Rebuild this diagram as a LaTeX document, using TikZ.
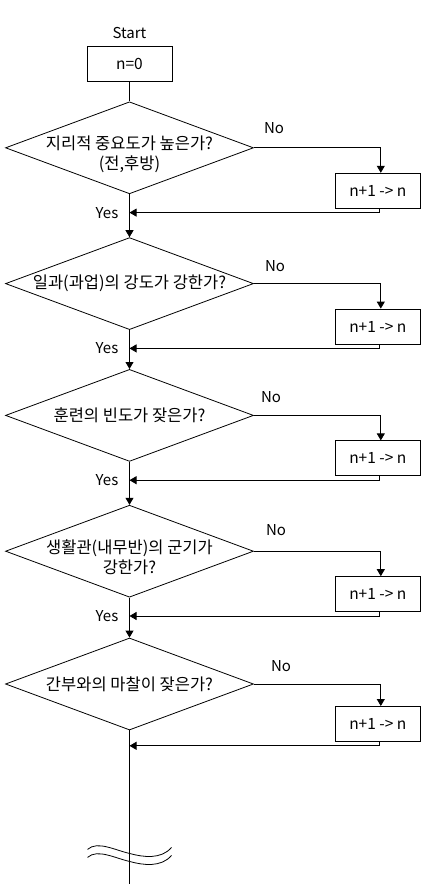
\documentclass[tikz,border=0pt]{standalone}
\usepackage{fontspec}
\setmainfont{Noto Sans CJK KR}
\usetikzlibrary{shapes.geometric, arrows.meta, positioning}
\tikzset{
    procbox/.style={
        rectangle, draw=black, line width=0.8pt,
        minimum width=85pt, minimum height=35pt,
        inner sep=0pt, font=\fontsize{15.5}{18}\selectfont
    },
    decision/.style={
        diamond, draw=black, line width=0.8pt,
        minimum width=248pt, minimum height=92pt, inner sep=0pt
    },
    question/.style={align=center, font=\fontsize{16.5}{20}\selectfont},
    lbl/.style={inner sep=0pt, font=\fontsize{15}{18}\selectfont},
    line/.style={draw=black, line width=0.8pt},
    arrow/.style={line, -{Triangle[length=7pt, width=8pt]}}
}

\begin{document}
\begin{tikzpicture}[x=1pt, y=1pt]
\useasboundingbox (0,0) rectangle (425,-884);

% ── Start ────────────────────────────────────────────────────────────────────
\node[procbox] (init) at (129.5,-63.5) {n=0};
\node[lbl, above=7pt of init] (start) {Start};

% ── Questions ────────────────────────────────────────────────────────────────
\node[decision, below=20pt of init,
      label={[question, yshift=-6pt]center:지리적 중요도가 높은가?\\(전,후방)}] (d1) {};
\node[decision, below=43pt of d1,
      label={[question]center:일과(과업)의 강도가 강한가?}] (d2) {};
\node[decision, below=39pt of d2,
      label={[question]center:훈련의 빈도가 잦은가?}] (d3) {};
\node[decision, below=43pt of d3,
      label={[question, yshift=-6pt]center:생활관(내무반)의 군기가\\강한가?}] (d4) {};
\node[decision, below=40pt of d4,
      label={[question]center:간부와의 마찰이 잦은가?}] (d5) {};

% ── Counters ─────────────────────────────────────────────────────────────────
\node[procbox, below right=25pt and 81pt of d1.east] (b1) {n+1 -{}> n};
\node[procbox, below right=25pt and 81pt of d2.east] (b2) {n+1 -{}> n};
\node[procbox, below right=25pt and 81pt of d3.east] (b3) {n+1 -{}> n};
\node[procbox, below right=25pt and 81pt of d4.east] (b4) {n+1 -{}> n};
\node[procbox, below right=22pt and 81pt of d5.east] (b5) {n+1 -{}> n};

% ── No labels ────────────────────────────────────────────────────────────────
\node[lbl, above right=14pt and 10pt of d1.east] (no1) {No};
\node[lbl, above right=12pt and 11pt of d2.east] (no2) {No};
\node[lbl, above right=13pt and 7pt of d3.east]  (no3) {No};
\node[lbl, above right=15pt and 12pt of d4.east] (no4) {No};
\node[lbl, above right=12pt and 17pt of d5.east] (no5) {No};

% ── Return points ────────────────────────────────────────────────────────────
\coordinate[below=4pt of b1.south] (r1);
\coordinate[below=4pt of b2.south] (r2);
\coordinate[below=4pt of b3.south] (r3);
\coordinate[below=4pt of b4.south] (r4);
\coordinate[below=4pt of b5.south] (r5);
\coordinate (j1) at (r1 -| d1.south);
\coordinate (j2) at (r2 -| d2.south);
\coordinate (j3) at (r3 -| d3.south);
\coordinate (j4) at (r4 -| d4.south);
\coordinate (j5) at (r5 -| d5.south);

% ── Yes labels ───────────────────────────────────────────────────────────────
\node[lbl, left=11pt of j1] (yes1) {Yes};
\node[lbl, left=11pt of j2] (yes2) {Yes};
\node[lbl, left=11pt of j3] (yes3) {Yes};
\node[lbl, left=11pt of j4] (yes4) {Yes};

% ── Arrows: main line ────────────────────────────────────────────────────────
\draw[line]  (init) -- (d1);
\draw[arrow] (d1.south) -- (d2.north);
\draw[arrow] (d2.south) -- (d3.north);
\draw[arrow] (d3.south) -- (d4.north);
\draw[arrow] (d4.south) -- (d5.north);

% ── Arrows: No branch ────────────────────────────────────────────────────────
\draw[arrow] (d1.east) -| ([xshift=3pt]b1.north);
\draw[arrow] (d2.east) -| ([xshift=3pt]b2.north);
\draw[arrow] (d3.east) -| ([xshift=3pt]b3.north);
\draw[arrow] (d4.east) -| ([xshift=3pt]b4.north);
\draw[arrow] (d5.east) -| ([xshift=3pt]b5.north);

% ── Arrows: back to main line ────────────────────────────────────────────────
\draw[arrow] ([xshift=2pt]b1.south) -- ([xshift=2pt]r1) -- (j1);
\draw[arrow] ([xshift=2pt]b2.south) -- ([xshift=2pt]r2) -- (j2);
\draw[arrow] ([xshift=2pt]b3.south) -- ([xshift=2pt]r3) -- (j3);
\draw[arrow] ([xshift=2pt]b4.south) -- ([xshift=2pt]r4) -- (j4);
\draw[arrow] ([xshift=2pt]b5.south) -- ([xshift=2pt]r5) -- (j5);

% ── Tail with break mark ─────────────────────────────────────────────────────
\coordinate[below=158pt of d5.south] (tail);
\coordinate[below=123pt of d5.south] (brk);
\draw[line] (d5.south) -- (tail);
\begin{scope}[shift={(brk)}]
\draw[line] (-42,4) .. controls (-32,13) and (-14,3) .. (0,0)
            .. controls (14,-4) and (32,-6) .. (42,6);
\draw[line] (-42,-4) .. controls (-32,5) and (-14,-5) .. (0,-8)
            .. controls (14,-12) and (32,-14) .. (42,-2);
\end{scope}

\end{tikzpicture}
\end{document}
